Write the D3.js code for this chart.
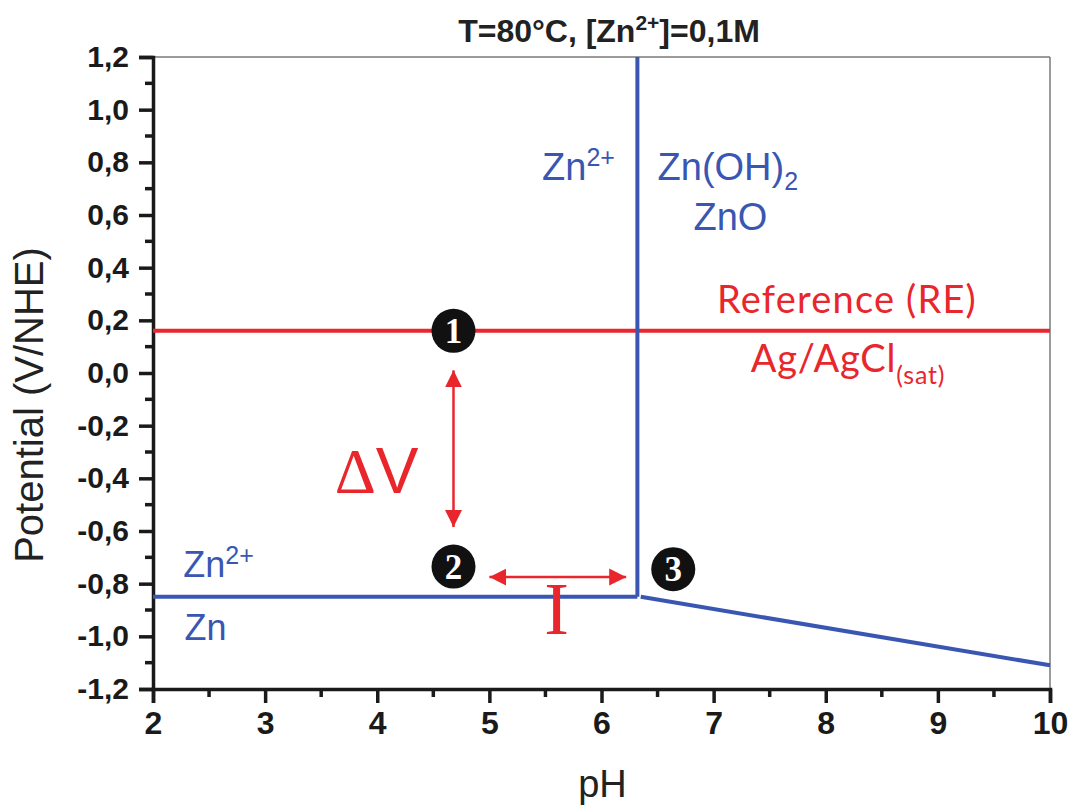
<!DOCTYPE html>
<html>
<head>
<meta charset="utf-8">
<script src="https://cdn.jsdelivr.net/npm/d3@7"></script>
<style>
  html, body { margin: 0; padding: 0; background: #fff; }
  svg { display: block; }
</style>
</head>
<body>
<svg id="chart" width="1072" height="808"></svg>
<script>
// ---------- data ----------
const xTicks = [2, 3, 4, 5, 6, 7, 8, 9, 10];
const yTicks = [1.2, 1.0, 0.8, 0.6, 0.4, 0.2, 0.0, -0.2, -0.4, -0.6, -0.8, -1.0, -1.2];
const yTickLabels = ["1,2", "1,0", "0,8", "0,6", "0,4", "0,2", "0,0", "-0,2", "-0,4", "-0,6", "-0,8", "-1,0", "-1,2"];

// Zn/Zn2+ equilibrium (horizontal)
const znLinePH = [2, 6.32];
const znLineE = [-0.85, -0.85];
// Zn2+/Zn(OH)2 boundary (vertical)
const hydroxLinePH = [6.32, 6.32];
const hydroxLineE = [-0.85, 1.2];
// Zn(OH)2/Zn boundary (sloped)
const slopeLinePH = [6.35, 10];
const slopeLineE = [-0.85, -1.11];
// Reference electrode Ag/AgCl(sat)
const refLinePH = [2, 10];
const refLineE = [0.16, 0.16];

// numbered markers
const markerPH = [4.68, 4.68, 6.64];
const markerE = [0.16, -0.735, -0.745];
const markerLabels = ["1", "2", "3"];

// arrows
const dvArrowPH = [4.68, 4.68];
const dvArrowE = [0.01, -0.585];
const iArrowPH = [5.0, 6.22];
const iArrowE = [-0.775, -0.775];

// ---------- layout ----------
const svg = d3.select("#chart");
const margin = { left: 153, top: 57, right: 1050, bottom: 689 };
const x = d3.scaleLinear().domain([2, 10]).range([margin.left, margin.right]);
const y = d3.scaleLinear().domain([-1.2, 1.2]).range([margin.bottom, margin.top]);

const blue = "#3a56b3";
const red = "#e8262c";
const sans = "Liberation Sans, Arial, sans-serif";
const serif = "Liberation Serif, Times New Roman, serif";

// frame: top & right thin gray
svg.append("line").attr("x1", x(2)).attr("x2", x(10)).attr("y1", y(1.2)).attr("y2", y(1.2))
  .attr("stroke", "#7a7a7a").attr("stroke-width", 1.5);
svg.append("line").attr("x1", x(10)).attr("x2", x(10)).attr("y1", y(1.2)).attr("y2", y(-1.2))
  .attr("stroke", "#7a7a7a").attr("stroke-width", 1.5);

// ---------- axes ----------
const yAxis = d3.axisLeft(y).tickValues(yTicks).tickSize(14).tickPadding(10)
  .tickFormat((d, i) => yTickLabels[i]);
const gy = svg.append("g").attr("transform", `translate(${margin.left},0)`).call(yAxis);
gy.select(".domain").attr("stroke", "#1a1a1a").attr("stroke-width", 3.5);
gy.selectAll(".tick line").attr("stroke", "#1a1a1a").attr("stroke-width", 3.5);
gy.selectAll(".tick text").attr("font-family", sans).attr("font-weight", "bold")
  .attr("font-size", 30).attr("fill", "#1a1a1a");
// y minor ticks
const yMinor = d3.range(-1.1, 1.2, 0.2);
svg.append("g").selectAll("line").data(yMinor).join("line")
  .attr("x1", margin.left - 8).attr("x2", margin.left)
  .attr("y1", d => y(d)).attr("y2", d => y(d))
  .attr("stroke", "#1a1a1a").attr("stroke-width", 3.5);

const xAxis = d3.axisBottom(x).tickValues(xTicks).tickSize(14).tickPadding(8)
  .tickFormat(d3.format("d"));
const gx = svg.append("g").attr("transform", `translate(0,${margin.bottom})`).call(xAxis);
gx.select(".domain").attr("stroke", "#1a1a1a").attr("stroke-width", 3.5);
gx.selectAll(".tick line").attr("stroke", "#1a1a1a").attr("stroke-width", 3.5);
gx.selectAll(".tick text").attr("font-family", sans).attr("font-weight", "bold")
  .attr("font-size", 32).attr("fill", "#1a1a1a");
const xMinor = d3.range(2.5, 10, 1);
svg.append("g").selectAll("line").data(xMinor).join("line")
  .attr("x1", d => x(d)).attr("x2", d => x(d))
  .attr("y1", margin.bottom).attr("y2", margin.bottom + 8)
  .attr("stroke", "#1a1a1a").attr("stroke-width", 3.5);

// axis titles
svg.append("text").attr("x", (margin.left + margin.right) / 2 + 1).attr("y", 797)
  .attr("text-anchor", "middle").attr("font-family", sans).attr("font-size", 38)
  .attr("fill", "#222").text("pH");
svg.append("text").attr("transform", `translate(43,405) rotate(-90)`)
  .attr("text-anchor", "middle").attr("font-family", sans).attr("font-size", 40)
  .attr("fill", "#222").text("Potential (V/NHE)");

// title
const title = svg.append("text").attr("x", 609).attr("y", 42).attr("text-anchor", "middle")
  .attr("font-family", sans).attr("font-weight", "bold").attr("font-size", 32).attr("fill", "#222");
title.append("tspan").text("T=80°C, [Zn");
title.append("tspan").attr("dy", -12).attr("font-size", 21).text("2+");
title.append("tspan").attr("dy", 12).text("]=0,1M");

// ---------- lines ----------
const line = d3.line().x(d => x(d[0])).y(d => y(d[1]));
const mk = (ph, e) => ph.map((p, i) => [p, e[i]]);

svg.append("path").datum(mk(refLinePH, refLineE)).attr("d", line)
  .attr("fill", "none").attr("stroke", red).attr("stroke-width", 4);
svg.append("path").datum(mk(znLinePH, znLineE)).attr("d", line)
  .attr("fill", "none").attr("stroke", blue).attr("stroke-width", 4);
svg.append("path").datum(mk(hydroxLinePH, hydroxLineE)).attr("d", line)
  .attr("fill", "none").attr("stroke", blue).attr("stroke-width", 4);
svg.append("path").datum(mk(slopeLinePH, slopeLineE)).attr("d", line)
  .attr("fill", "none").attr("stroke", blue).attr("stroke-width", 4);

// ---------- arrows ----------
const defs = svg.append("defs");
defs.append("marker").attr("id", "ah").attr("viewBox", "0 0 10 10")
  .attr("refX", 10).attr("refY", 5).attr("markerWidth", 17).attr("markerHeight", 18)
  .attr("markerUnits", "userSpaceOnUse").attr("orient", "auto-start-reverse")
  .append("path").attr("d", "M0,0 L10,5 L0,10 Z").attr("fill", red);

svg.append("path").datum(mk(dvArrowPH, dvArrowE)).attr("d", line)
  .attr("stroke", red).attr("stroke-width", 2.5).attr("fill", "none")
  .attr("marker-start", "url(#ah)").attr("marker-end", "url(#ah)");
svg.append("path").datum(mk(iArrowPH, iArrowE)).attr("d", line)
  .attr("stroke", red).attr("stroke-width", 2.5).attr("fill", "none")
  .attr("marker-start", "url(#ah)").attr("marker-end", "url(#ah)");

// ---------- markers ----------
const mg = svg.append("g").selectAll("g").data(markerLabels).join("g")
  .attr("transform", (d, i) => `translate(${x(markerPH[i])},${y(markerE[i])})`);
mg.append("circle").attr("r", 22).attr("fill", "#111");
mg.append("text").attr("text-anchor", "middle").attr("dy", 12)
  .attr("font-family", serif).attr("font-weight", "bold").attr("font-size", 35)
  .attr("fill", "#fff").text(d => d);

// ---------- labels ----------
function label(ph, e, parts, color, size, family, spacing) {
  const t = svg.append("text").attr("x", x(ph)).attr("y", y(e))
    .attr("font-family", family || sans).attr("font-size", size).attr("fill", color);
  if (spacing) t.attr("letter-spacing", spacing);
  parts.forEach(p => {
    const s = t.append("tspan").text(p.t);
    if (p.dy) s.attr("dy", p.dy);
    if (p.size) s.attr("font-size", p.size);
    if (p.family) s.attr("font-family", p.family);
  });
  return t;
}
label(5.47, 0.733, [{ t: "Zn" }, { t: "2+", dy: -14, size: 25 }], blue, 38);
label(6.50, 0.733, [{ t: "Zn(OH)" }, { t: "2", dy: 10, size: 25 }], blue, 38);
label(6.82, 0.543, [{ t: "ZnO" }], blue, 38);
label(2.27, -0.775, [{ t: "Zn" }, { t: "2+", dy: -13, size: 25 }], blue, 36);
label(2.28, -1.014, [{ t: "Zn" }], blue, 36);

const cal = "Lato, Carlito, Calibri, sans-serif";
label(7.03, 0.228, [{ t: "Reference (RE)" }], red, 38, cal, 1.2);
label(7.33, 0.004, [{ t: "Ag/AgCl" }, { t: "(sat)", dy: 12, size: 25 }], red, 38, cal, 0.8);

label(3.62, -0.456, [{ t: "Δ", family: serif }, { t: "V" }], red, 64);
svg.append("text").attr("x", x(5.6)).attr("y", y(-0.99)).attr("text-anchor", "middle")
  .attr("font-family", serif).attr("font-size", 74).attr("fill", red).text("I");
</script>
</body>
</html>
